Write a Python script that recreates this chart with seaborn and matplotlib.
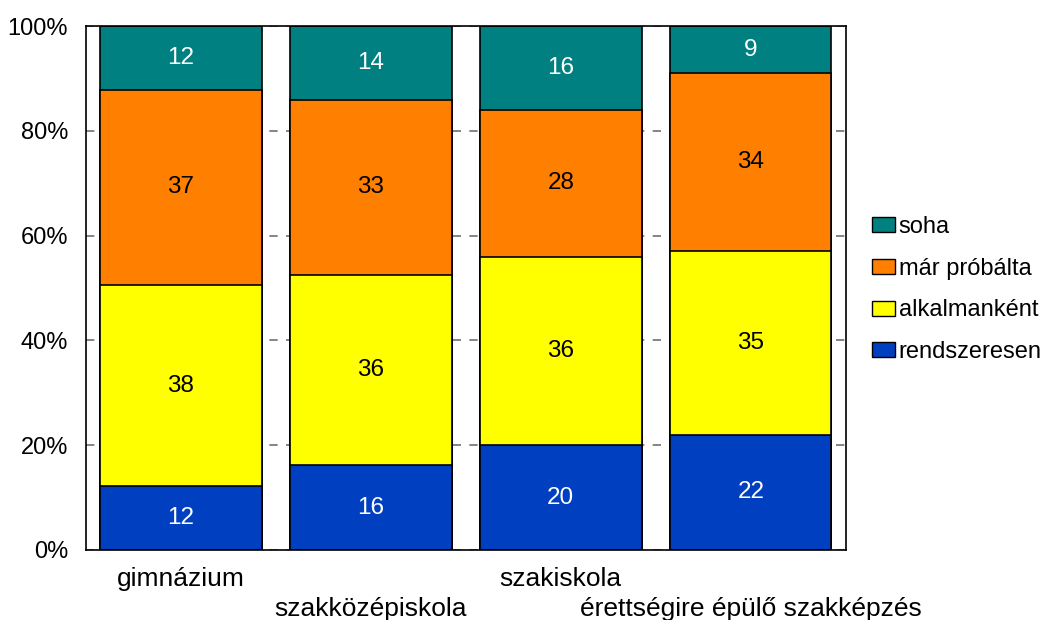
import numpy as np
import pandas as pd
import seaborn as sns
from matplotlib import pyplot as plt
from matplotlib.patches import Patch

schools = ["gimnázium", "szakközépiskola", "szakiskola", "érettségire épülő szakképzés"]
series = ["rendszeresen", "alkalmanként", "már próbálta", "soha"]
rendszeresen = [12, 16, 20, 22]
alkalmankent = [38, 36, 36, 35]
mar_probalta = [37, 33, 28, 34]
soha = [12, 14, 16, 9]
colors = ["#0040C0", "#FFFF00", "#FF8000", "#008080"]
label_colors = ["white", "black", "black", "white"]

sns.set_theme(style="white")
plt.rcParams["font.family"] = ["Liberation Sans", "DejaVu Sans"]
plt.rcParams["text.color"] = "black"
plt.rcParams["xtick.color"] = "black"
plt.rcParams["ytick.color"] = "black"

values = np.array([rendszeresen, alkalmankent, mar_probalta, soha], dtype=float)
shares = values / values.sum(axis=0) * 100
tops = shares.cumsum(axis=0)
bottoms = tops - shares

fig = plt.figure(figsize=(10.48, 6.2), dpi=100)
ax = fig.add_axes([0.082, 0.113, 0.725, 0.845])

# draw cumulative tops from the highest down so each layer covers the rest
for i in reversed(range(len(series))):
    df = pd.DataFrame({"school": schools, "top": tops[i]})
    sns.barplot(data=df, x="school", y="top", color=colors[i], saturation=1,
                width=0.85, edgecolor="black", linewidth=1.2, ax=ax, zorder=2)

for i in range(len(series)):
    for j in range(len(schools)):
        ax.text(j, bottoms[i, j] + shares[i, j] / 2, f"{values[i, j]:.0f}",
                ha="center", va="center", fontsize=17.5,
                color=label_colors[i], zorder=5)

ax.set_xlim(-0.5, 3.5)
ax.set_ylim(0, 100)
ax.set_yticks([0, 20, 40, 60, 80, 100])
ax.set_yticklabels(["0%", "20%", "40%", "60%", "80%", "100%"], fontsize=17)
ax.set_xticks(range(len(schools)))
ax.set_xticklabels(schools, fontsize=19)
ax.set_xlabel("")
ax.set_ylabel("")
ax.tick_params(axis="both", length=0)
ax.tick_params(axis="y", pad=13)
for k, tick in enumerate(ax.xaxis.get_major_ticks()):
    tick.set_pad(12 if k % 2 == 0 else 34)
ax.yaxis.grid(True, color="#707070", linestyle=(0, (5, 5)), linewidth=1.2, zorder=0)
ax.set_axisbelow(True)
for sp in ax.spines.values():
    sp.set_color("black")
    sp.set_linewidth(1.2)

handles = [Patch(facecolor=colors[i], edgecolor="black", label=series[i])
           for i in reversed(range(len(series)))]
ax.legend(handles=handles, loc="center left", bbox_to_anchor=(1.034, 0.497),
          frameon=False, fontsize=17, handlelength=1.0, handleheight=0.6,
          handletextpad=0.15, labelspacing=0.84, borderaxespad=0, borderpad=0)

fig.savefig("out.png", dpi=100)
